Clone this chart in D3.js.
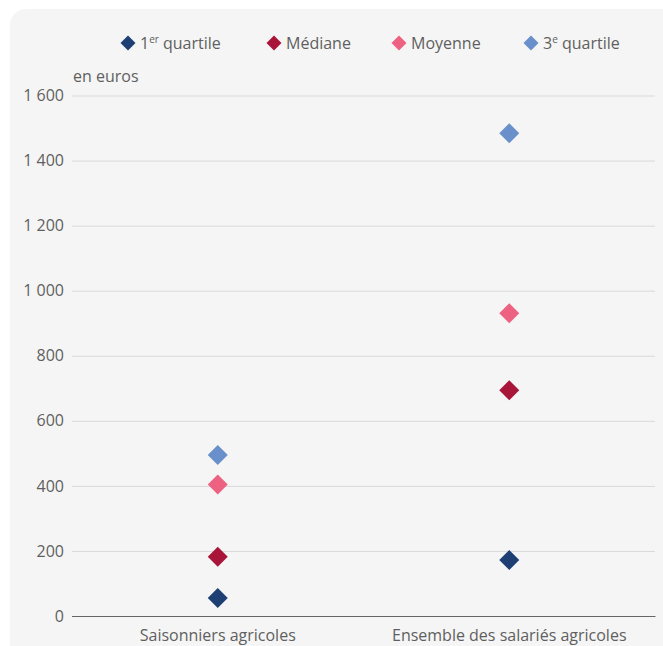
<!DOCTYPE html>
<html><head><meta charset="utf-8">
<script src="https://cdn.jsdelivr.net/npm/d3@7"></script>
<style>
body{margin:0;background:#fff;}
svg{display:block;font-family:"Open Sans",sans-serif;}
</style></head>
<body>
<svg id="c" width="663" height="646"></svg>
<script>
const categories = ["Saisonniers agricoles", "Ensemble des salariés agricoles"];
const seriesNames = ["1er quartile", "Médiane", "Moyenne", "3e quartile"];
const seriesColors = ["#1e3f74", "#a91539", "#ee6281", "#6990cb"];
const q1 = [55, 172];
const mediane = [182, 694];
const moyenne = [404, 931];
const q3 = [495, 1484];
const yTicks = [0, 200, 400, 600, 800, 1000, 1200, 1400, 1600];

const series = [q1, mediane, moyenne, q3];
const svg = d3.select("#c");
const FS = "16px";
const TXT = "#5f5f5f";

svg.append("rect").attr("x", 10).attr("y", 9).attr("width", 680).attr("height", 700)
  .attr("rx", 16).attr("fill", "#f5f5f5");

const x = d3.scaleBand().domain(categories).range([72, 655]);
const y = d3.scaleLinear().domain([0, 1600]).range([616, 95.5]);
const fmt = v => d3.format(",")(v).replace(/,/g, " ");

// grid
const yAxis = d3.axisLeft(y).tickValues(yTicks).tickSize(-(655 - 72)).tickPadding(8).tickFormat(fmt);
const ga = svg.append("g").attr("transform", "translate(72,0)").call(yAxis);
ga.select(".domain").remove();
ga.selectAll(".tick line").attr("stroke", "#d9d9d9").attr("stroke-width", 1);
ga.selectAll(".tick text").attr("fill", TXT).style("font-size", FS)
  .style("font-family", "'Open Sans',sans-serif").attr("x", -8);
ga.selectAll(".tick").filter(d => d === 0).select("line").attr("stroke", "#666666");

// x axis
const xAxis = d3.axisBottom(x).tickSize(0).tickPadding(14);
const gx = svg.append("g").attr("transform", "translate(0,616)").call(xAxis);
gx.select(".domain").attr("stroke", "#666666");
gx.selectAll(".tick text").attr("fill", TXT).style("font-size", FS)
  .style("font-family", "'Open Sans',sans-serif")
  .attr("y", 25).attr("dy", 0);

// unit
svg.append("text").attr("x", 73).attr("y", 82).attr("fill", TXT)
  .style("font-size", FS).text("en euros");

// points
const diamond = d3.symbol().type(d3.symbolSquare).size(200);
series.forEach((vals, i) => {
  svg.append("g").selectAll("path").data(vals).join("path")
    .attr("d", diamond)
    .attr("transform", (d, j) => `translate(${x(categories[j]) + x.bandwidth() / 2},${y(d)}) rotate(45)`)
    .attr("fill", seriesColors[i]);
});

// legend
const legX = [128, 274, 399, 531];
const lg = svg.append("g");
seriesNames.forEach((name, i) => {
  const g = lg.append("g").attr("transform", `translate(${legX[i]},43)`);
  g.append("path").attr("d", d3.symbol().type(d3.symbolSquare).size(112)).attr("transform", "rotate(45)")
    .attr("fill", seriesColors[i]);
  const t = g.append("text").attr("x", 12).attr("y", 6).attr("fill", TXT).style("font-size", FS);
  if (i === 0) {
    t.append("tspan").text("1");
    t.append("tspan").attr("dy", -6).style("font-size", "10px").text("er");
    t.append("tspan").attr("dy", 6).text(" quartile");
  } else if (i === 3) {
    t.append("tspan").text("3");
    t.append("tspan").attr("dy", -6).style("font-size", "10px").text("e");
    t.append("tspan").attr("dy", 6).text(" quartile");
  } else {
    t.text(name);
  }
});
</script>
</body></html>
